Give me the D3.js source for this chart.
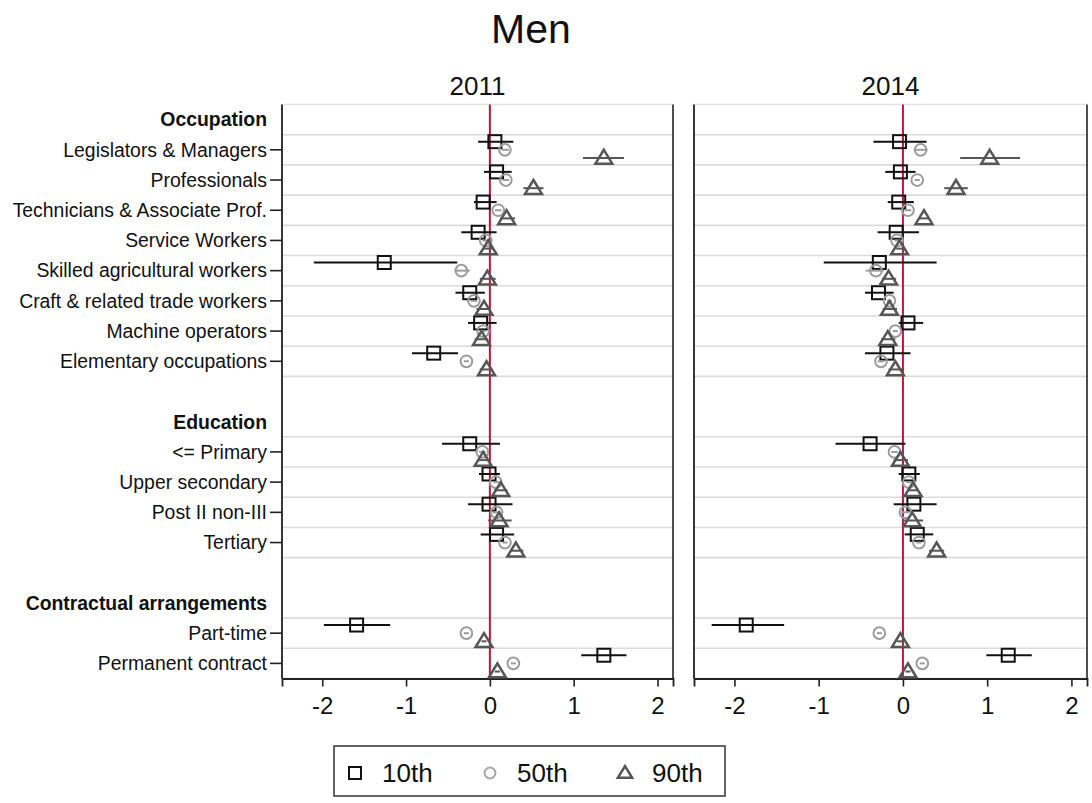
<!DOCTYPE html>
<html>
<head>
<meta charset="utf-8">
<script src="https://cdn.jsdelivr.net/npm/d3@7"></script>
<style>
  body { margin: 0; background: #fff; }
  svg { display: block; }
  text { font-family: "Liberation Sans", Arial, Helvetica, sans-serif; fill: #111; }
</style>
</head>
<body>
<svg id="chart" width="1092" height="803"></svg>
<script>
// ---- data ------------------------------------------------------------
const groups = ["Occupation", "Education", "Contractual arrangements"];
const occupations = [
  "Legislators & Managers", "Professionals", "Technicians & Associate Prof.",
  "Service Workers", "Skilled agricultural workers", "Craft & related trade workers",
  "Machine operators", "Elementary occupations"
];
const education = ["<= Primary", "Upper secondary", "Post II non-III", "Tertiary"];
const contracts = ["Part-time", "Permanent contract"];
const years = ["2011", "2014"];
const percentiles = ["10th", "50th", "90th"];
const xTicks = [-2, -1, 0, 1, 2];

// [estimate, lower, upper]; rows follow occupations, education, contracts
const p10_2011 = [
  [0.06, -0.14, 0.28], [0.08, -0.07, 0.26], [-0.08, -0.19, 0.08], [-0.14, -0.34, 0.08],
  [-1.26, -2.10, -0.39], [-0.24, -0.41, -0.06], [-0.11, -0.26, 0.08], [-0.67, -0.93, -0.38],
  [-0.24, -0.57, 0.12], [-0.01, -0.13, 0.12], [-0.01, -0.26, 0.27], [0.08, -0.11, 0.29],
  [-1.59, -1.98, -1.19], [1.36, 1.09, 1.63]
];
const p50_2011 = [
  [0.18, 0.14, 0.23], [0.19, 0.15, 0.23], [0.10, 0.06, 0.14], [-0.05, -0.09, -0.01],
  [-0.34, -0.42, -0.24], [-0.19, -0.23, -0.15], [-0.08, -0.11, -0.05], [-0.28, -0.31, -0.25],
  [-0.09, -0.13, -0.05], [0.07, 0.04, 0.11], [0.08, 0.03, 0.13], [0.18, 0.15, 0.21],
  [-0.28, -0.31, -0.25], [0.28, 0.25, 0.31]
];
const p90_2011 = [
  [1.36, 1.11, 1.60], [0.52, 0.40, 0.64], [0.20, 0.12, 0.30], [-0.02, -0.08, 0.05],
  [-0.03, -0.12, 0.07], [-0.07, -0.16, 0.00], [-0.10, -0.18, -0.02], [-0.04, -0.12, 0.03],
  [-0.08, -0.15, -0.01], [0.13, 0.05, 0.21], [0.11, -0.02, 0.26], [0.31, 0.24, 0.40],
  [-0.07, -0.10, -0.04], [0.09, 0.06, 0.12]
];
const p10_2014 = [
  [-0.04, -0.35, 0.28], [-0.03, -0.21, 0.15], [-0.05, -0.18, 0.13], [-0.08, -0.30, 0.19],
  [-0.28, -0.94, 0.40], [-0.29, -0.45, -0.11], [0.06, -0.05, 0.24], [-0.19, -0.45, 0.09],
  [-0.39, -0.80, 0.03], [0.07, -0.05, 0.20], [0.13, -0.11, 0.40], [0.17, 0.02, 0.36],
  [-1.86, -2.27, -1.41], [1.25, 0.99, 1.53]
];
const p50_2014 = [
  [0.21, 0.13, 0.29], [0.17, 0.14, 0.20], [0.06, 0.02, 0.10], [-0.07, -0.10, -0.04],
  [-0.32, -0.44, -0.23], [-0.16, -0.19, -0.13], [-0.09, -0.12, -0.06], [-0.26, -0.30, -0.22],
  [-0.10, -0.14, -0.06], [0.07, 0.04, 0.10], [0.03, -0.02, 0.08], [0.19, 0.16, 0.22],
  [-0.28, -0.31, -0.25], [0.23, 0.20, 0.26]
];
const p90_2014 = [
  [1.03, 0.68, 1.39], [0.63, 0.49, 0.77], [0.25, 0.20, 0.30], [-0.04, -0.08, 0.00],
  [-0.17, -0.25, -0.08], [-0.16, -0.24, -0.07], [-0.18, -0.26, -0.09], [-0.09, -0.17, -0.01],
  [-0.03, -0.11, 0.06], [0.12, 0.06, 0.18], [0.11, -0.01, 0.24], [0.40, 0.31, 0.49],
  [-0.03, -0.07, 0.01], [0.06, 0.03, 0.09]
];

// ---- row layout: headers, categories and spacer rows -----------------
const rows = [];
[occupations, education, contracts].forEach((cats, g) => {
  if (g > 0) rows.push({ kind: "gap" });
  rows.push({ kind: "header", label: groups[g] });
  cats.forEach(c => rows.push({ kind: "cat", label: c }));
});
const catRows = rows.map((r, i) => ({ ...r, i })).filter(r => r.kind === "cat");

const panels = [
  { year: years[0], range: [282, 673], series: [p10_2011, p50_2011, p90_2011] },
  { year: years[1], range: [694, 1087], series: [p10_2014, p50_2014, p90_2014] }
];

const styles = [
  { color: "#111111", off: -0.27, shape: "square" },
  { color: "#9c9c9c", off: 0, shape: "circle" },
  { color: "#565656", off: 0.27, shape: "triangle" }
];

const svg = d3.select("#chart");
const y = d3.scaleLinear().domain([-0.5, rows.length - 0.5]).range([104.5, 678.5]);
const xDomain = [-2.48, 2.185];

function marker(sel, shape, color, cx, cy, s) {
  if (shape === "square") {
    sel.append("rect").attr("x", cx - s / 2).attr("y", cy - s / 2)
      .attr("width", s).attr("height", s)
      .attr("fill", "none").attr("stroke", color).attr("stroke-width", 2);
  } else if (shape === "circle") {
    sel.append("circle").attr("cx", cx).attr("cy", cy).attr("r", s * 0.45)
      .attr("fill", "none").attr("stroke", color).attr("stroke-width", 2);
  } else {
    const w = s * 1.3, h = s * 1.05;
    sel.append("path")
      .attr("d", `M${cx},${cy - h * 0.6}L${cx + w / 2},${cy + h * 0.42}L${cx - w / 2},${cy + h * 0.42}Z`)
      .attr("fill", "none").attr("stroke", color).attr("stroke-width", 2.5)
      .attr("stroke-linejoin", "miter");
  }
}

// ---- titles ------------------------------------------------------------
svg.append("text").attr("x", 531).attr("y", 43).attr("text-anchor", "middle")
  .attr("font-size", 41).text("Men");

// ---- panels ------------------------------------------------------------
panels.forEach((p, pi) => {
  const x = d3.scaleLinear().domain(xDomain).range(p.range);
  const g = svg.append("g");
  const [x0, x1] = p.range;

  g.append("text").attr("x", (x0 + x1) / 2).attr("y", 95).attr("text-anchor", "middle")
    .attr("font-size", 26).text(p.year);

  // horizontal separators around each category row
  const lines = new Set();
  catRows.forEach(r => { lines.add(r.i - 0.5); lines.add(r.i + 0.5); });
  g.selectAll("line.grid").data([...lines]).join("line")
    .attr("class", "grid")
    .attr("x1", x0).attr("x2", x1)
    .attr("y1", d => y(d)).attr("y2", d => y(d))
    .attr("stroke", "#dcdcdc").attr("stroke-width", 1.6);

  // panel frame: light top, dark sides and bottom
  g.append("line").attr("x1", x0).attr("x2", x1).attr("y1", y(-0.5)).attr("y2", y(-0.5))
    .attr("stroke", "#e4e4e4").attr("stroke-width", 1.5);
  g.append("line").attr("x1", x1).attr("x2", x1).attr("y1", y(-0.5)).attr("y2", y(rows.length - 0.5))
    .attr("stroke", "#222").attr("stroke-width", 1.6);

  // reference line at zero
  g.append("line").attr("x1", x(0)).attr("x2", x(0))
    .attr("y1", y(-0.5)).attr("y2", y(rows.length - 0.5))
    .attr("stroke", "#b8173f").attr("stroke-width", 2);

  // x axis
  const xa = g.append("g").attr("transform", `translate(0,${y(rows.length - 0.5)})`)
    .call(d3.axisBottom(x).tickValues(xTicks).tickFormat(d3.format("d")).tickSizeOuter(0).tickSize(8).tickPadding(10));
  xa.select(".domain").attr("stroke", "#222").attr("stroke-width", 1.8);
  xa.selectAll(".tick line").attr("stroke", "#222").attr("stroke-width", 1.6);
  xa.selectAll(".tick text").attr("font-size", 24).attr("fill", "#111")
    .attr("font-family", '"Liberation Sans", Arial, sans-serif')
    .text(d => d < 0 ? "-" + Math.abs(d) : d);

  // y axis: left line (+ ticks and labels on the first panel)
  const ya = g.append("g").attr("transform", `translate(${x0},0)`);
  ya.append("line").attr("x1", 0).attr("x2", 0).attr("y1", y(-0.5)).attr("y2", y(rows.length - 0.5))
    .attr("stroke", "#222").attr("stroke-width", 1.8);
  if (pi === 0) {
    ya.selectAll("line.tk").data(catRows).join("line").attr("class", "tk")
      .attr("x1", -12).attr("x2", 0).attr("y1", d => y(d.i)).attr("y2", d => y(d.i))
      .attr("stroke", "#222").attr("stroke-width", 1.6);
    ya.selectAll("text.lab").data(rows.map((r, i) => ({ ...r, i })).filter(r => r.kind !== "gap"))
      .join("text").attr("class", "lab")
      .attr("x", -15).attr("y", d => y(d.i)).attr("dy", "0.35em")
      .attr("text-anchor", "end").attr("font-size", 19.4)
      .attr("font-weight", d => d.kind === "header" ? "bold" : "normal")
      .text(d => d.label);
  }

  // confidence intervals and point estimates
  p.series.forEach((vals, si) => {
    const st = styles[si];
    const sg = g.append("g");
    catRows.forEach((r, k) => {
      const [est, lo, hi] = vals[k];
      const cy = y(r.i + st.off);
      sg.append("line").attr("x1", x(lo)).attr("x2", x(hi)).attr("y1", cy).attr("y2", cy)
        .attr("stroke", st.color).attr("stroke-width", 2);
      marker(sg, st.shape, st.color, x(est), cy, 13);
    });
  });
});

// ---- legend ------------------------------------------------------------
const lg = svg.append("g");
lg.append("rect").attr("x", 334).attr("y", 746).attr("width", 391).attr("height", 50)
  .attr("fill", "#fff").attr("stroke", "#333").attr("stroke-width", 1.5);
const legX = [355, 490, 625];
percentiles.forEach((p, i) => {
  marker(lg, styles[i].shape, i === 1 ? "#a8a8a8" : styles[i].color, legX[i], 773, i === 2 ? 11 : 12);
  lg.append("text").attr("x", legX[i] + 27).attr("y", 773).attr("dy", "0.35em")
    .attr("font-size", 26).text(p);
});
</script>
</body>
</html>
